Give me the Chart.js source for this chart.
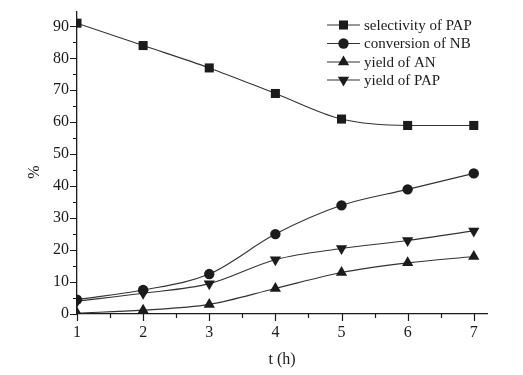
<!DOCTYPE html>
<html>
<head>
<meta charset="utf-8">
<script src="https://cdn.jsdelivr.net/npm/chart.js@4/dist/chart.umd.min.js"></script>
<style>
  html, body { margin: 0; padding: 0; background: #fff; }
  #wrap { width: 523px; height: 375px; }
</style>
</head>
<body>
<div id="wrap"><canvas id="chart"></canvas></div>
<script>
// reaction time (h)
const hours = [1, 2, 3, 4, 5, 6, 7];
const selectivityPAP = [91, 84, 77, 69, 61, 59, 59];
const conversionNB = [4.5, 7.5, 12.5, 25, 34, 39, 44];
const yieldAN = [0.3, 1.2, 3, 8, 13, 16, 18];
const yieldPAP = [4, 6.5, 9.5, 17, 20.5, 23, 26];

const seriesNames = ["selectivity of PAP", "conversion of NB", "yield of AN", "yield of PAP"];
const yTicks = [0, 10, 20, 30, 40, 50, 60, 70, 80, 90];
const xTicks = [1, 2, 3, 4, 5, 6, 7];

const INK = "#1b1b1b";
const FONT = "'Liberation Serif', 'DejaVu Serif', serif";

function pts(vals) {
  return hours.map((h, i) => ({ x: h, y: vals[i] }));
}

function series(label, vals, style, radius, rotation) {
  return {
    label: label,
    data: pts(vals),
    borderColor: "#333",
    borderWidth: 1.1,
    pointStyle: style,
    pointRadius: radius,
    pointRotation: rotation || 0,
    pointBackgroundColor: INK,
    pointBorderColor: INK,
    pointBorderWidth: 0,
    cubicInterpolationMode: "monotone",
    fill: false
  };
}

const datasets = [
  series(seriesNames[0], selectivityPAP, "rect", 6.4),
  series(seriesNames[1], conversionNB, "circle", 5.2),
  series(seriesNames[2], yieldAN, "triangle", 6.5),
  series(seriesNames[3], yieldPAP, "triangle", 6.5, 180)
];

// axis tick marks: long at labelled values, short halfway between
const tickMarks = {
  id: "tickMarks",
  afterDraw(chart) {
    const ctx = chart.ctx;
    const xs = chart.scales.x, ys = chart.scales.y;
    const a = chart.chartArea;
    ctx.save();
    ctx.strokeStyle = INK;
    ctx.lineWidth = 1.2;
    ctx.beginPath();
    for (let v = 0; v <= 90; v += 5) {
      const y = Math.round(ys.getPixelForValue(v)) + 0.5;
      const len = v % 10 === 0 ? 7 : 4;
      ctx.moveTo(a.left - len, y);
      ctx.lineTo(a.left, y);
    }
    for (let v = 1; v <= 7; v += 0.5) {
      const x = Math.round(xs.getPixelForValue(v)) + 0.5;
      const len = v % 1 === 0 ? 7 : 4;
      ctx.moveTo(x, a.bottom);
      ctx.lineTo(x, a.bottom + len);
    }
    ctx.stroke();

    // y axis title, a bit below the middle like the original
    ctx.translate(35, 172);
    ctx.rotate(-Math.PI / 2);
    ctx.font = "16px " + FONT;
    ctx.fillStyle = INK;
    ctx.textAlign = "center";
    ctx.textBaseline = "middle";
    ctx.fillText("%", 0, 0);
    ctx.restore();
  }
};

// legend inside plot, line + marker style
const inLegend = {
  id: "inLegend",
  afterDraw(chart) {
    const ctx = chart.ctx;
    const x0 = 327, x1 = 360, tx = 364;
    const rows = [25, 43.5, 62, 80];
    ctx.save();
    ctx.font = "15px " + FONT;
    ctx.textBaseline = "middle";
    ctx.fillStyle = INK;
    chart.data.datasets.forEach((ds, i) => {
      const y = rows[i];
      ctx.strokeStyle = "#333";
      ctx.lineWidth = 1.1;
      ctx.beginPath();
      ctx.moveTo(x0, y);
      ctx.lineTo(x1, y);
      ctx.stroke();
      ctx.fillStyle = INK;
      Chart.helpers.drawPoint(ctx, {
        pointStyle: ds.pointStyle,
        radius: ds.pointRadius,
        rotation: ds.pointRotation,
        borderWidth: 0
      }, (x0 + x1) / 2, y);
      ctx.fillText(ds.label, tx, y + 1);
    });
    ctx.restore();
  }
};

new Chart(document.getElementById("chart"), {
  type: "line",
  data: { datasets: datasets },
  options: {
    responsive: true,
    maintainAspectRatio: false,
    animation: false,
    layout: { padding: { top: 12, right: 36, left: 0, bottom: 0 } },
    plugins: { legend: { display: false }, tooltip: { enabled: false } },
    scales: {
      x: {
        type: "linear",
        min: 1,
        max: 7.2,
        afterBuildTicks(scale) {
          scale.ticks = xTicks.map(v => ({ value: v }));
        },
        afterFit(scale) { scale.height = 61; },
        grid: { display: false },
        border: { display: true, color: INK, width: 1.3 },
        ticks: {
          color: INK,
          padding: 1,
          font: { family: FONT, size: 16 },
          maxRotation: 0
        },
        title: {
          display: true,
          text: "t (h)",
          color: INK,
          padding: { top: 4, bottom: 6 },
          font: { family: FONT, size: 16 }
        }
      },
      y: {
        min: 0,
        max: 94.5,
        afterBuildTicks(scale) {
          scale.ticks = yTicks.map(v => ({ value: v }));
        },
        afterFit(scale) { scale.width = 77; },
        grid: { display: false },
        border: { display: true, color: INK, width: 1.3 },
        ticks: {
          color: INK,
          padding: 0,
          font: { family: FONT, size: 16 }
        }
      }
    }
  },
  plugins: [tickMarks, inLegend]
});
</script>
</body>
</html>
